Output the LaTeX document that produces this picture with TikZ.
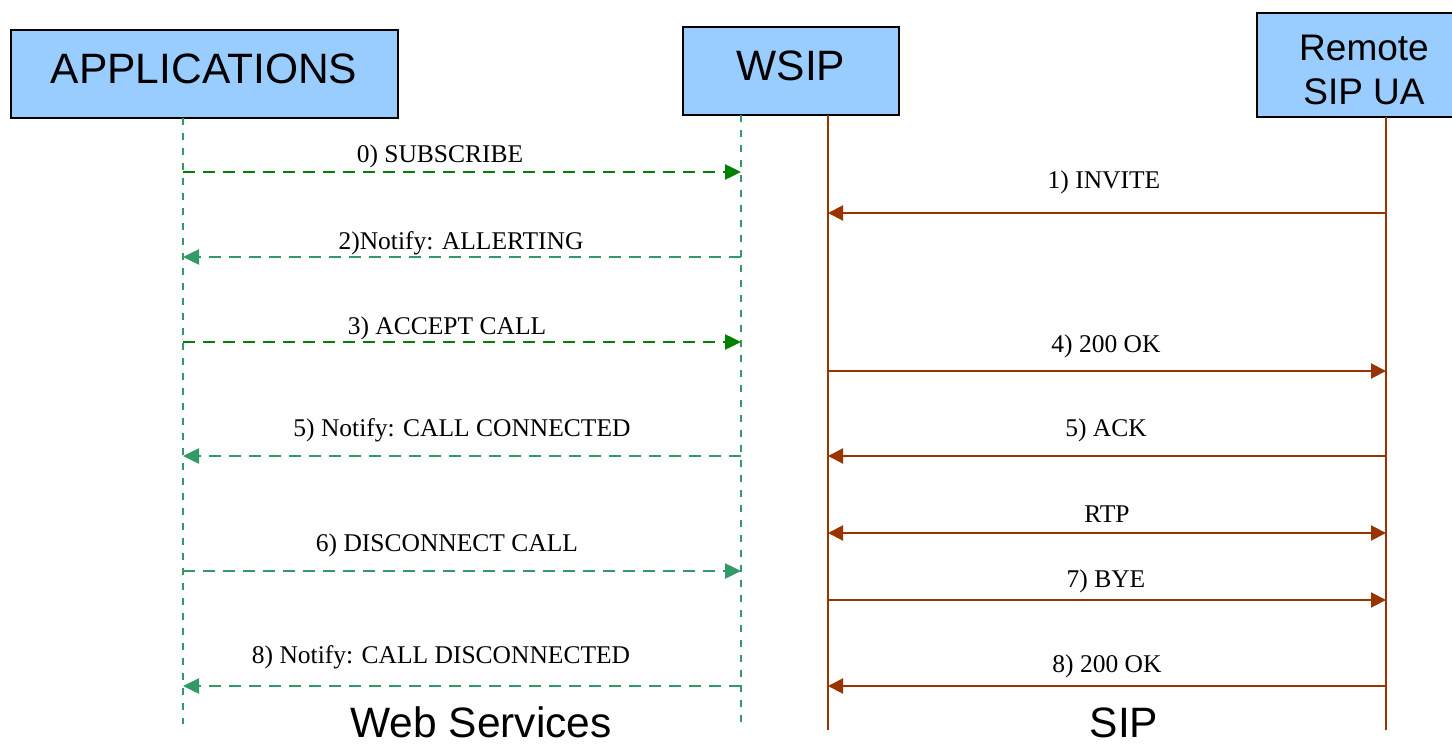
\documentclass[tikz,border=0pt]{standalone}
\usepackage{fontspec}
\setmainfont{Liberation Serif}
\setsansfont{Liberation Sans}
\usetikzlibrary{arrows.meta}
\definecolor{boxfill}{HTML}{99CCFF}
\definecolor{wsdark}{HTML}{008000}
\definecolor{wslight}{HTML}{339966}
\definecolor{sipbrown}{HTML}{993300}
\begin{document}
\begin{tikzpicture}[x=1pt,y=-1pt,
  actor/.style={draw=black, line width=2.5pt, fill=boxfill, inner sep=0pt},
  bigsans/.style={font=\sffamily\fontsize{42.5}{48}\selectfont, inner sep=0pt, anchor=base},
  midsans/.style={font=\sffamily\fontsize{37}{44}\selectfont, inner sep=0pt, anchor=base},
  msgtext/.style={font=\fontsize{25.5}{30}\selectfont, inner sep=0pt, anchor=base},
  wsline/.style={draw=wslight, line width=2pt, dash pattern=on 7pt off 8pt},
  sipline/.style={draw=sipbrown, line width=2pt},
  wsmsg/.style={line width=2.5pt, dash pattern=on 12pt off 8pt, -{Triangle[length=16pt,width=15pt]}},
  sipmsg/.style={sipbrown, line width=2pt, -{Triangle[length=15pt,width=15pt]}},
  sipboth/.style={sipbrown, line width=2pt, {Triangle[length=15pt,width=15pt]}-{Triangle[length=15pt,width=15pt]}}
]
\useasboundingbox (0,0) rectangle (1452,744);
\clip (0,0) rectangle (1452,744);

% participant boxes
\node[actor, minimum width=387pt, minimum height=88pt] (apps) at (204.5,74) {};
\node[actor, minimum width=216pt, minimum height=88pt] (wsip) at (791,71) {};
\node[actor, minimum width=214pt, minimum height=104pt] (remote) at (1364,65) {};
\node[bigsans] (appsT) at (204,83) {APPLICATIONS};
\node[bigsans] (wsipT) at (791,80) {WSIP};
\node[midsans] (remT1) at (1364,60) {Remote};
\node[midsans] (remT2) at (1364,104) {SIP UA};

% lifelines
\coordinate (aTop) at (183,118);  \coordinate (aBot) at (183,724);
\coordinate (wTop) at (741,115);  \coordinate (wBot) at (741,724);
\coordinate (sTop) at (828,115);  \coordinate (sBot) at (828,730);
\coordinate (rTop) at (1386,117); \coordinate (rBot) at (1386,730);
\draw[wsline] (aTop) -- (aBot);
\draw[wsline] (wTop) -- (wBot);
\draw[sipline] (sTop) -- (sBot);
\draw[sipline] (rTop) -- (rBot);

% message anchor points on each lifeline
\foreach \y in {172,257,342,456,571,686} {
  \coordinate (A\y) at (183,\y);
  \coordinate (W\y) at (741,\y);
}
\foreach \y in {213,371,456,533,600,686} {
  \coordinate (S\y) at (828,\y);
  \coordinate (R\y) at (1386,\y);
}

% web services messages
\draw[wsmsg, wsdark]  (A172) -- (W172);
\node[msgtext] (m0) at (440,162) {0) SUBSCRIBE};
\draw[wsmsg, wslight] (W257) -- (A257);
\node[msgtext] (m2) at (461,249) {2)Notify: ALLERTING};
\draw[wsmsg, wsdark]  (A342) -- (W342);
\node[msgtext] (m3) at (447,334) {3) ACCEPT CALL};
\draw[wsmsg, wslight] (W456) -- (A456);
\node[msgtext] (m5) at (462,436) {5) Notify: CALL CONNECTED};
\draw[wsmsg, wslight] (A571) -- (W571);
\node[msgtext] (m6) at (447,551) {6) DISCONNECT CALL};
\draw[wsmsg, wslight] (W686) -- (A686);
\node[msgtext] (m8) at (441,663) {8) Notify: CALL DISCONNECTED};

% SIP messages
\draw[sipmsg] (R213) -- (S213);
\node[msgtext] (s1) at (1104,188) {1) INVITE};
\draw[sipmsg] (S371) -- (R371);
\node[msgtext] (s4) at (1106,352) {4) 200 OK};
\draw[sipmsg] (R456) -- (S456);
\node[msgtext] (s5) at (1106,436) {5) ACK};
\draw[sipboth] (S533) -- (R533);
\node[msgtext] (srtp) at (1107,522) {RTP};
\draw[sipmsg] (S600) -- (R600);
\node[msgtext] (s7) at (1106,587) {7) BYE};
\draw[sipmsg] (R686) -- (S686);
\node[msgtext] (s8) at (1107,672) {8) 200 OK};

% domain captions
\node[bigsans] (webT) at (481,737) {Web Services};
\node[bigsans] (sipT) at (1124,737) {SIP};
\end{tikzpicture}
\end{document}
